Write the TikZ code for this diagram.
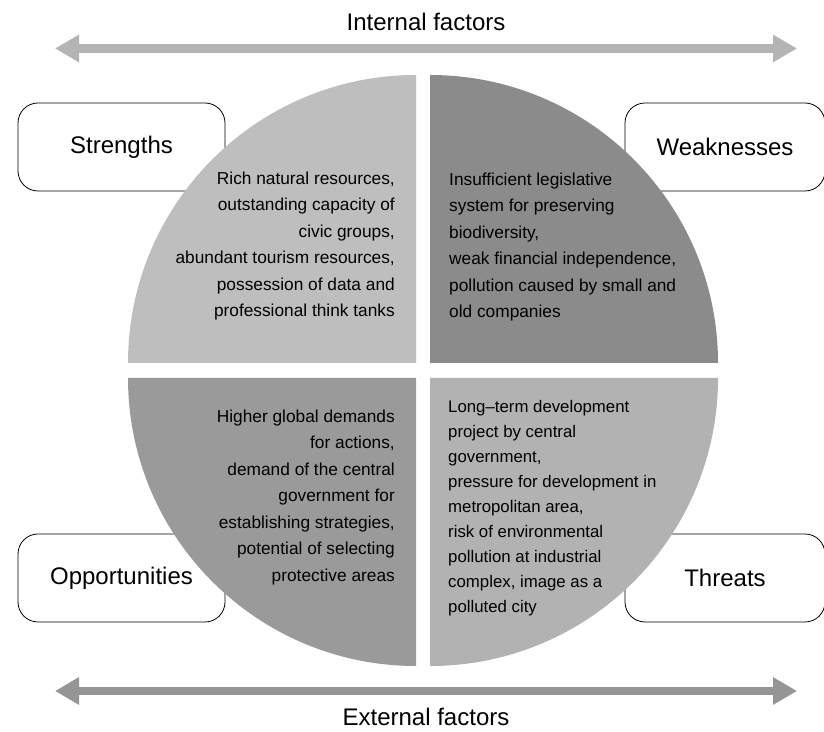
\documentclass[tikz,border=0pt]{standalone}
\usepackage{fontspec}
\setmainfont{Liberation Sans}
\usetikzlibrary{arrows.meta}
\definecolor{qTL}{HTML}{BDBEBD}
\definecolor{qTR}{HTML}{8B8B8B}
\definecolor{qBL}{HTML}{999A99}
\definecolor{qBR}{HTML}{B2B2B2}
\definecolor{arrInt}{HTML}{B4B4B4}
\definecolor{arrExt}{HTML}{959595}
\begin{document}
\begin{tikzpicture}[x=1bp,y=1bp,
  factor/.style={line width=8.5bp, {Triangle[length=24bp,width=26bp]}-{Triangle[length=24bp,width=26bp]}},
  swot/.style={draw=black, line width=0.8bp, fill=white, rounded corners=20bp,
    minimum height=88bp, inner sep=0pt, font=\fontsize{24bp}{28bp}\selectfont},
  qtext/.style={inner sep=0pt, font=\fontsize{17.3bp}{26.5bp}\selectfont},
  flabel/.style={inner sep=0pt, font=\fontsize{24bp}{28bp}\selectfont}]
\useasboundingbox (0,0) rectangle (824,732);
\fill[white] (0,0) rectangle (824,732);
\clip (0,0) rectangle (824,732);

% factor arrows
\coordinate (iL) at (55,683.5);
\coordinate (iR) at (797,683.5);
\coordinate (eL) at (55,41);
\coordinate (eR) at (797,41);
\draw[factor, arrInt] (iL) -- (iR);
\draw[factor, arrExt] (eL) -- (eR);
\node[flabel, anchor=base] (internal) at (426,701) {Internal factors};
\node[flabel, anchor=base] (external) at (426,6) {External factors};

% boxes (lie under the circle)
\node[swot, minimum width=207bp] (S) at (121.5,585) {Strengths};
\node[swot, minimum width=200bp] (W) at (725,585) {Weaknesses};
\node[swot, minimum width=207bp] (O) at (121.5,154) {Opportunities};
\node[swot, minimum width=200bp] (T) at (725,154) {Threats};

% quadrants
\fill[qTL] (416,369) -- (128,369) arc[start angle=180, end angle=90, radius=288bp] -- cycle;
\fill[qTR] (430,369) -- (430,657) arc[start angle=90, end angle=0, radius=288bp] -- cycle;
\fill[qBL] (416,354) -- (128,354) arc[start angle=180, end angle=270, radius=288bp] -- cycle;
\fill[qBR] (430,354) -- (718,354) arc[start angle=0, end angle=-90, radius=288bp] -- cycle;

% quadrant texts
\node[qtext, align=right, anchor=east] (sT) at (395,486) {Rich natural resources,\\outstanding capacity of\\civic groups,\\abundant tourism resources,\\possession of data and\\professional think tanks};
\node[qtext, align=left, anchor=west] (wT) at (449,485) {Insufficient legislative\\system for preserving\\biodiversity,\\weak financial independence,\\pollution caused by small and\\old companies};
\node[qtext, align=right, anchor=east] (oT) at (395,234.5) {Higher global demands\\for actions,\\demand of the central\\government for\\establishing strategies,\\potential of selecting\\protective areas};
\node[qtext, align=left, anchor=west, font=\fontsize{16.8bp}{25bp}\selectfont] (tT) at (448,224) {Long–term development\\project by central\\government,\\pressure for development in\\metropolitan area,\\risk of environmental\\pollution at industrial\\complex, image as a\\polluted city};
\end{tikzpicture}
\end{document}
